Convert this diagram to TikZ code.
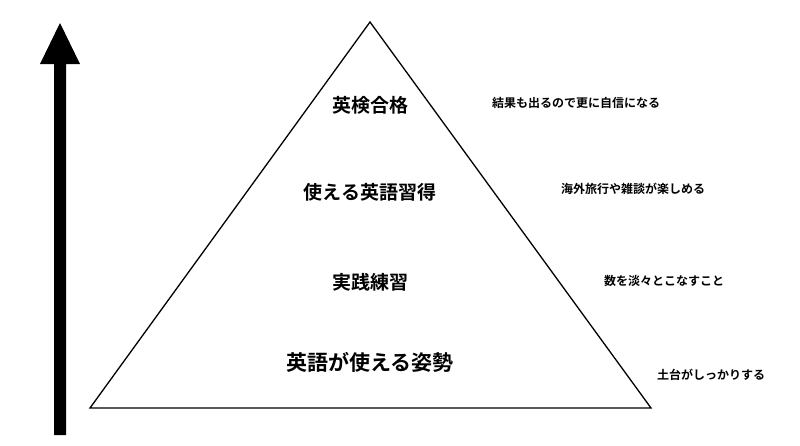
\documentclass[tikz,border=0pt]{standalone}
\usepackage{fontspec}
\newfontfamily\jp{Noto Sans CJK JP Bold}
\usetikzlibrary{arrows.meta}
\tikzset{level/.style={font=\jp\fontsize{19}{22}\selectfont},
  note/.style={font=\jp\fontsize{12}{14}\selectfont}}
\begin{document}
\begin{tikzpicture}[x=1pt,y=-1pt]
\useasboundingbox (0,0) rectangle (800,445);
% arrow
\fill (54,435)--(54,64)--(40,64)--(60,23)--(80,64)--(66,64)--(66,435)--cycle;
% pyramid
\draw[line width=1.3pt] (370,22)--(651,408)--(90,408)--cycle;
\node[level] (goal) at (370,105){英検合格};
\node[level] (use) at (370,192){使える英語習得};
\node[level] (prac) at (370,282){実践練習};
\node[level,font=\jp\fontsize{21}{24}\selectfont] (base) at (370,362){英語が使える姿勢};
\node[note] (ngoal) at (576,103){結果も出るので更に自信になる};
\node[note] (nuse) at (633,189){海外旅行や雑談が楽しめる};
\node[note] (nprac) at (664,281){数を淡々とこなすこと};
\node[note] (nbase) at (711,375){土台がしっかりする};
\end{tikzpicture}
\end{document}
